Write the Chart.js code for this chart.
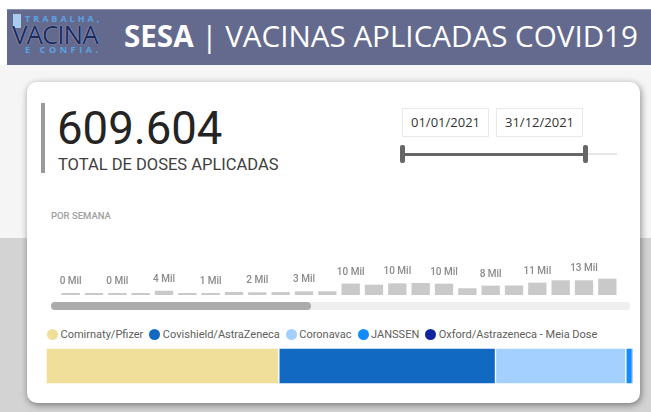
<html><head><meta charset="utf-8">
<script src="https://cdn.jsdelivr.net/npm/chart.js@4.4.0/dist/chart.umd.min.js"></script>
<style>
body{margin:0;width:651px;height:412px;overflow:hidden;position:relative;background:#fff;font-family:Roboto,sans-serif;}
.abs{position:absolute;}
#band{left:7px;top:9px;width:644px;height:56px;background:#646a8e;border-top:1px solid #8a8fa8;box-sizing:border-box;}
#bgtop{left:0;top:65px;width:651px;height:173px;background:#f5f5f5;}
#bgbot{left:0;top:238px;width:651px;height:174px;background:#d3d3d3;}
#card{left:27px;top:82px;width:613px;height:321px;background:#fff;border-radius:10px;box-shadow:1px 2px 7px rgba(0,0,0,0.45);}
#title{left:124px;top:16px;color:#fff;font-family:"Open Sans",sans-serif;font-size:29.6px;white-space:nowrap;line-height:40px;}
#title b{font-weight:700;}
#logo{left:12px;top:14px;width:100px;font-family:"Open Sans",sans-serif;}
#logo .l1,#logo .l3{display:block;margin-left:13px;font-weight:700;font-size:9px;line-height:10px;color:#5aa3e2;}
#logo .l1{letter-spacing:3px;}
#logo .l3{letter-spacing:3.6px;}
#logo .l2{display:block;font-size:26px;line-height:21px;height:21px;color:#1a2a5e;letter-spacing:-1px;text-shadow:0 0 1px #cfe2f5;}
#syr{left:13px;top:14px;width:8px;height:14px;background:#a9cdee;}
#kbar{left:41px;top:103px;width:4px;height:70px;background:#9a9a9a;}
#kval{left:57px;top:104px;font-size:45.5px;line-height:50px;color:#252423;}
#klab{left:58px;top:156px;font-size:16.5px;line-height:18px;color:#404040;}
#sem{left:51px;top:210px;font-size:9.5px;font-weight:500;color:#a0a0a0;}
.date{top:108px;width:87px;height:29px;border:1px solid #e9e9e9;box-sizing:border-box;font-family:"Open Sans",sans-serif;font-size:13px;color:#333;text-align:center;line-height:27px;}
#track{left:402px;top:153px;width:183px;height:3px;background:#666;}
#rest{left:587px;top:153px;width:30px;height:2px;background:#e6e6e6;}
.hnd{top:145px;width:5px;height:18px;border-radius:2px;background:#666;}
#scrt{left:51px;top:302px;width:579px;height:8px;border-radius:4px;background:#efefef;}
#scrh{left:51px;top:302px;width:260px;height:8px;border-radius:4px;background:#ababab;}
#legend{left:47px;top:328px;height:12px;display:flex;align-items:center;font-size:11px;color:#605e5c;white-space:nowrap;}
#legend .it{display:flex;align-items:center;margin-right:6px;}
#legend .dot{width:11px;height:11px;border-radius:50%;margin-right:2.5px;}
</style>
</head>
<body>
<div class="abs" id="bgtop"></div>
<div class="abs" id="bgbot"></div>
<div class="abs" id="band"></div>
<div class="abs" id="syr"></div>
<div class="abs" id="logo"><span class="l1">TRABALHA,</span><span class="l2">VACINA</span><span class="l3">E CONFIA.</span></div>
<div class="abs" id="title"><b>SESA</b> | VACINAS APLICADAS COVID19</div>
<div class="abs" id="card"></div>
<div class="abs" id="kbar"></div>
<div class="abs" id="kval">609.604</div>
<div class="abs" id="klab">TOTAL DE DOSES APLICADAS</div>
<div class="abs" id="sem">POR SEMANA</div>
<div class="abs date" style="left:402px">01/01/2021</div>
<div class="abs date" style="left:496px">31/12/2021</div>
<div class="abs" id="track"></div>
<div class="abs" id="rest"></div>
<div class="abs hnd" style="left:400px"></div>
<div class="abs hnd" style="left:583px"></div>
<div class="abs" style="left:59px;top:255px;width:560px;height:40px"><canvas id="semana" width="560" height="40"></canvas></div>
<div class="abs" id="scrt"></div>
<div class="abs" id="scrh"></div>
<div class="abs" id="legend"></div>
<div class="abs" style="left:46px;top:348px;width:587px;height:36px"><canvas id="vacinas" width="587" height="36"></canvas></div>
<script>
// doses por semana (em mil)
var semanas = ['S1','S2','S3','S4','S5','S6','S7','S8','S9','S10','S11','S12',
               'S13','S14','S15','S16','S17','S18','S19','S20','S21','S22','S23','S24'];
var dosesSemana = [0.3, 0.3, 0.4, 1.0, 3.8, 1.8, 1.0, 2.7, 2.4, 2.6, 3.2, 3.3,
                   10.2, 9.2, 10.4, 10.7, 10.1, 6.0, 8.4, 8.5, 11.0, 13.1, 13.1, 14.6];

// doses por vacina
var vacinas = ['Comirnaty/Pfizer', 'Covishield/AstraZeneca', 'Coronavac', 'JANSSEN', 'Oxford/Astrazeneca - Meia Dose'];
var dosesVacina = [241800, 225000, 135400, 6800, 600];
var cores = ['#efdf9a', '#1269c1', '#a3d0ff', '#118dff', '#12239e'];

Chart.defaults.font.family = 'Roboto';

var rotulos = {
  id: 'rotulos',
  afterDatasetsDraw: function(chart) {
    var ctx = chart.ctx;
    var meta = chart.getDatasetMeta(0);
    ctx.save();
    ctx.font = '500 10px Roboto';
    ctx.fillStyle = '#8a8a8a';
    ctx.textAlign = 'center';
    ctx.textBaseline = 'alphabetic';
    meta.data.forEach(function(bar, i) {
      if (i % 2) return;
      ctx.fillText(Math.round(dosesSemana[i]) + ' Mil', bar.x, bar.y - 9);
    });
    ctx.restore();
  }
};

new Chart(document.getElementById('semana'), {
  type: 'bar',
  data: {
    labels: semanas,
    datasets: [{
      data: dosesSemana,
      backgroundColor: '#c9c9c9',
      minBarLength: 2,
      categoryPercentage: 1,
      barPercentage: 0.785
    }]
  },
  options: {
    responsive: false,
    animation: false,
    plugins: {legend: {display: false}, tooltip: {enabled: false}},
    scales: {
      x: {display: false},
      y: {display: false, min: 0, max: 35.7}
    }
  },
  plugins: [rotulos]
});

var total = dosesVacina.reduce(function(a, b) { return a + b; }, 0);
var chartVac = new Chart(document.getElementById('vacinas'), {
  type: 'bar',
  data: {
    labels: ['Doses'],
    datasets: vacinas.map(function(v, i) {
      return {
        label: v,
        data: [dosesVacina[i]],
        backgroundColor: cores[i],
        borderColor: '#ffffff',
        borderWidth: 1,
        borderSkipped: false,
        categoryPercentage: 1,
        barPercentage: 1
      };
    })
  },
  options: {
    indexAxis: 'y',
    responsive: false,
    animation: false,
    plugins: {legend: {display: false}, tooltip: {enabled: false}},
    scales: {
      x: {display: false, stacked: true, min: 0, max: total},
      y: {display: false, stacked: true}
    }
  }
});

// legenda
var leg = document.getElementById('legend');
chartVac.data.datasets.forEach(function(ds) {
  var it = document.createElement('div');
  it.className = 'it';
  it.innerHTML = '<span class="dot" style="background:' + ds.backgroundColor + '"></span>' + ds.label;
  leg.appendChild(it);
});
</script>
</body></html>
